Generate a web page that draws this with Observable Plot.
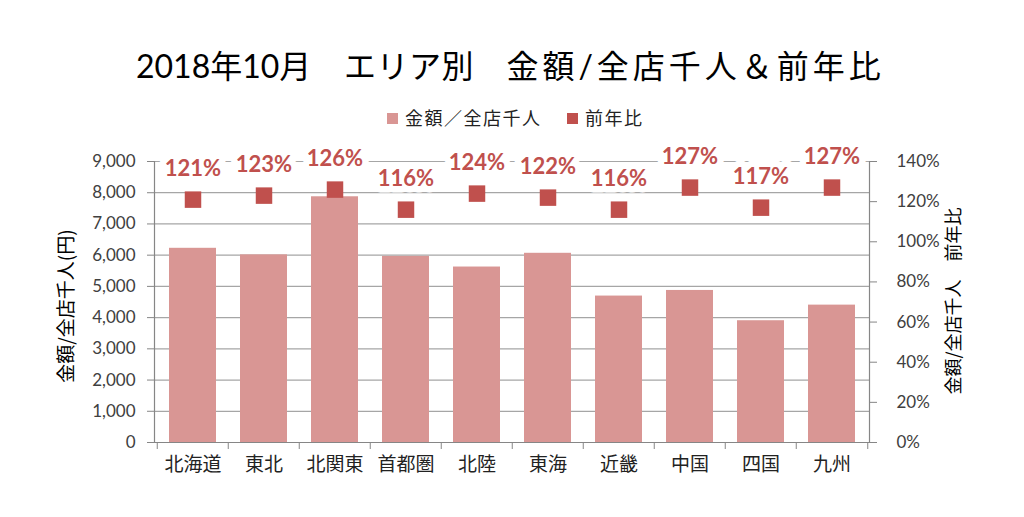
<!DOCTYPE html>
<html>
<head>
<meta charset="utf-8">
<script src="https://cdn.jsdelivr.net/npm/d3@7"></script>
<script src="https://cdn.jsdelivr.net/npm/@observablehq/plot@0.6"></script>
<style>
  html, body { margin: 0; padding: 0; background: #fff; }
  #wrap { width: 1024px; height: 517px; overflow: hidden; }
  svg { display: block; }
</style>
</head>
<body>
<div id="wrap"></div>
<script>
const titleParts = ["2018年10月", "\u3000エリア別\u3000", "金額/全店千人＆前年比"];
const legendLabels = ["金額／全店千人", "前年比"];
const areas = ["北海道", "東北", "北関東", "首都圏", "北陸", "東海", "近畿", "中国", "四国", "九州"];
const amounts = [6220, 6010, 7870, 5960, 5620, 6060, 4690, 4870, 3900, 4400];
const ratios = [121, 123, 126, 116, 124, 122, 116, 127, 117, 127];
const leftTicks = [0, 1000, 2000, 3000, 4000, 5000, 6000, 7000, 8000, 9000];
const rightTicks = [0, 20, 40, 60, 80, 100, 120, 140];
const leftTitle = "金額/全店千人(円)";
const rightTitle = "金額/全店千人\u3000前年比";

const barColor = "#D99694";
const dotColor = "#C0504D";
const axisColor = "#868686";
const gridColor = "#A6A6A6";
const latin = "Lato, 'Noto Sans CJK JP', sans-serif";
const cjk = "'Noto Sans CJK JP', sans-serif";

const yMax = 9000, pMax = 140;
const K = yMax / pMax; // percent -> left units
const data = areas.map((a, i) => ({area: a, amount: amounts[i], ratio: ratios[i]}));

const W = 1024, headerH = 135, H = 517 - headerH;
const mL = 154, mR = 155, mT = 26, mB = 75;
const step = (W - mL - mR) / areas.length;

// Header: title + legend
const wrap = d3.select("#wrap");
const head = wrap.append("svg").attr("width", W).attr("height", headerH);
const title = head.append("text")
  .attr("x", 136).attr("y", 78)
  .style("font-family", latin).style("font-size", "32px").style("fill", "#000");
const spacing = ["0px", "0.5px", "4px"];
titleParts.forEach((t, i) => title.append("tspan").style("letter-spacing", spacing[i]).text(t));

const legColors = [barColor, dotColor];
const legX = [387, 567];
legendLabels.forEach((lab, i) => {
  head.append("rect").attr("x", legX[i]).attr("y", 113).attr("width", 11).attr("height", 11).attr("fill", legColors[i]);
  head.append("text").attr("x", legX[i] + 18).attr("y", 125)
    .style("font-family", cjk).style("font-size", "18px").style("letter-spacing", "1.5px").style("fill", "#222")
    .text(lab);
});

const chart = Plot.plot({
  width: W, height: H,
  marginLeft: mL, marginRight: mR, marginTop: mT, marginBottom: mB,
  style: {fontFamily: latin, background: "#fff", overflow: "visible"},
  x: {domain: areas, padding: 0},
  y: {domain: [0, yMax]},
  marks: [
    Plot.gridY({ticks: leftTicks, stroke: gridColor, strokeOpacity: 1, strokeWidth: 1.2}),
    Plot.barY(data, {x: "area", y: "amount", fill: barColor, insetLeft: 12, insetRight: 12}),
    Plot.dot(data, {x: "area", y: d => d.ratio * K, symbol: "square", r: 9.3, fill: dotColor, stroke: "none"}),
    Plot.text(data, {
      x: "area", y: d => d.ratio * K, text: d => d.ratio + "%", dy: -31,
      fill: dotColor, stroke: "white", strokeWidth: 13, strokeLinejoin: "round", paintOrder: "stroke",
      fontWeight: "bold", fontSize: 22, fontFamily: latin
    }),
    Plot.ruleY([0], {stroke: axisColor, strokeWidth: 1.2}),
    Plot.frame({anchor: "left", stroke: axisColor, strokeWidth: 1.2}),
    Plot.frame({anchor: "right", stroke: axisColor, strokeWidth: 1.2}),
    Plot.axisY({anchor: "left", ticks: leftTicks, tickFormat: d3.format(","), tickSize: 7, tickPadding: 12,
      stroke: axisColor, fill: "#404040", fontSize: 17, fontFamily: latin, label: null}),
    Plot.axisY({anchor: "right", ticks: rightTicks.map(p => p * K), tickFormat: d => Math.round(d / K) + "%",
      tickSize: 7, tickPadding: 20, stroke: axisColor, fill: "#404040", fontSize: 17, fontFamily: latin, label: null}),
    Plot.axisX({ticks: areas, tickSize: 7, tickFormat: () => "", dx: -step / 2, stroke: axisColor, label: null}),
    Plot.axisX({ticks: [areas[areas.length - 1]], tickSize: 7, tickFormat: () => "", dx: step / 2, stroke: axisColor, label: null}),
    Plot.axisX({ticks: areas, tickSize: 0, tickPadding: 15, fill: "#222", fontSize: 19, fontFamily: cjk, label: null,
      style: {letterSpacing: "0.5px"}}),
    Plot.text([leftTitle], {frameAnchor: "left", textAnchor: "middle", dx: -87.5, dy: 4, rotate: -90,
      fontSize: 19, fontFamily: cjk, fill: "#000", style: {letterSpacing: "2.5px"}}),
    Plot.text([rightTitle], {frameAnchor: "right", textAnchor: "middle", dx: 85, dy: -1, rotate: -90,
      fontSize: 18, fontFamily: cjk, fill: "#000"})
  ]
});
document.getElementById("wrap").appendChild(chart);
</script>
</body>
</html>
